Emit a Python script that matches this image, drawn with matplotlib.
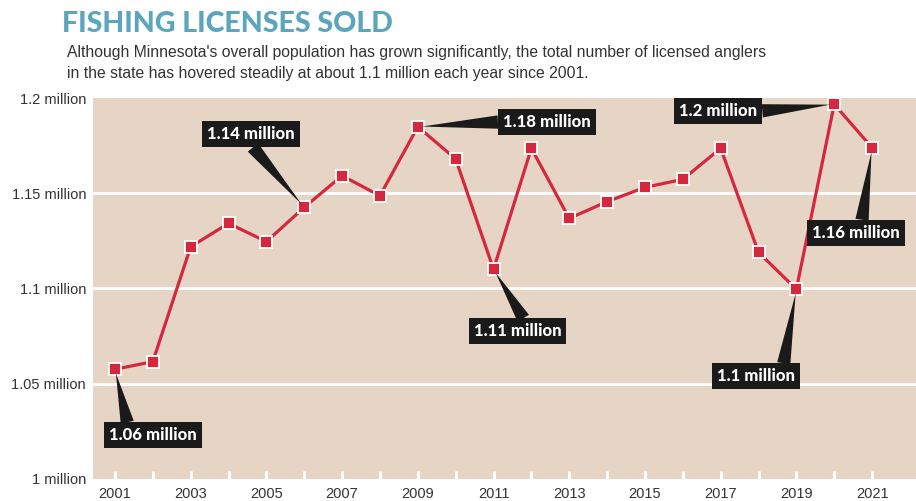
import matplotlib
matplotlib.use("Agg")
import matplotlib.pyplot as plt

# === DANE ===
years = list(range(2001, 2022))
licenses = [1.0576, 1.0616, 1.1219, 1.1342, 1.1246, 1.1426, 1.1592, 1.1487,
            1.1849, 1.1680, 1.1101, 1.1736, 1.1368, 1.1456, 1.1531, 1.1573,
            1.1736, 1.1190, 1.0996, 1.1967, 1.1739]

y_ticks = [1.0, 1.05, 1.1, 1.15, 1.2]
y_labels = ["1 million", "1.05 million", "1.1 million", "1.15 million", "1.2 million"]

label_years = [2001, 2006, 2009, 2011, 2019, 2020, 2021]
label_texts = ["1.06 million", "1.14 million", "1.18 million", "1.11 million",
               "1.1 million", "1.2 million", "1.16 million"]

# przesunięcia etykiet (piksele) i punkt zaczepienia klina
offsets = [(38, -66), (-53, 73), (129, 5), (24, -62), (-40, -87), (-116, -7), (-16, -85)]
relpos = [(0.22, 1.0), (0.47, 0.0), (0.0, 0.5), (0.6, 1.0), (0.84, 1.0), (1.0, 0.5), (0.56, 1.0)]

RED = "#d5283e"
BG = "#e6d5c5"
TEXT = "#333333"
plt.rcParams["font.family"] = ["Liberation Sans", "DejaVu Sans"]

fig = plt.figure(figsize=(9.16, 5.01), dpi=100)
ax = fig.add_axes([93 / 916, 1 - 479 / 501, 1 - 93 / 916, 381 / 501])
ax.set_facecolor(BG)

ax.plot(years, licenses, color=RED, lw=2.3, marker="s", ms=8,
        mfc=RED, mec="white", mew=1.3, zorder=3)

ax.set_xlim(2000.42, 2022.16)
ax.set_ylim(1.0, 1.2)

for y in y_ticks[1:-1]:
    ax.axhline(y, color="white", lw=2, zorder=1)

ax.set_yticks(y_ticks)
ax.set_yticklabels(y_labels)
ax.tick_params(axis="y", length=0, pad=5, labelsize=10.5, labelcolor=TEXT)

ax.set_xticks(years[::2])
ax.set_xticks(years[1::2], minor=True)
ax.tick_params(axis="x", which="both", direction="in", length=6, width=2,
               color="white", labelsize=10.5, labelcolor=TEXT, pad=6)

for s in ax.spines.values():
    s.set_visible(False)

# === ETYKIETY Z KLINAMI ===
for yr, txt, off, rp in zip(label_years, label_texts, offsets, relpos):
    val = licenses[years.index(yr)]
    ax.annotate(txt, xy=(yr, val), xytext=off, textcoords="offset pixels",
                ha="center", va="center", color="white", fontsize=12,
                fontfamily="Lato", fontweight="black", zorder=5,
                bbox=dict(boxstyle="square,pad=0.3", fc="#1a1a1a", ec="none"),
                arrowprops=dict(arrowstyle="wedge,tail_width=0.8,shrink_factor=0.5",
                                fc="#1a1a1a", ec="none", relpos=rp,
                                shrinkA=0, shrinkB=3))

# === TYTUŁ I OPIS ===
fig.text(62 / 916, 1 - 32 / 501, "FISHING LICENSES SOLD", color="#5ba5bd",
         fontsize=20.5, fontfamily="Lato", fontweight="black", ha="left", va="baseline")
fig.text(67 / 916, 1 - 57 / 501,
         "Although Minnesota's overall population has grown significantly, the total number of licensed anglers",
         color=TEXT, fontsize=11.3, ha="left", va="baseline")
fig.text(67 / 916, 1 - 78 / 501,
         "in the state has hovered steadily at about 1.1 million each year since 2001.",
         color=TEXT, fontsize=11.3, ha="left", va="baseline")

fig.savefig("out.png", dpi=100)
